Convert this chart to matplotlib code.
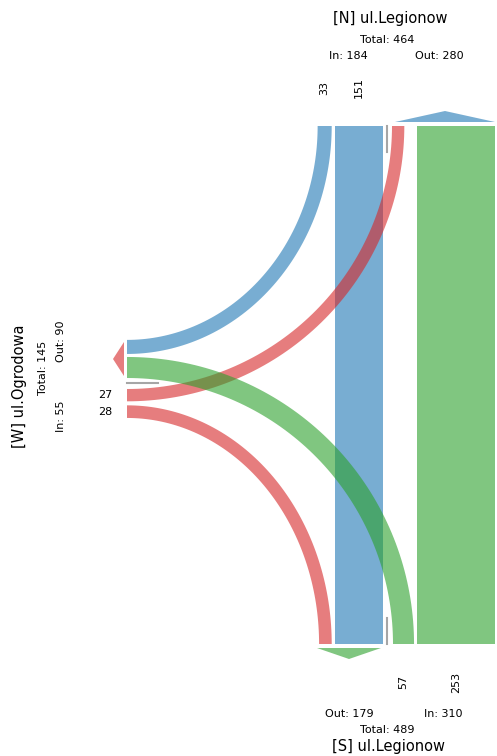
import matplotlib
matplotlib.use('Agg')
import matplotlib.pyplot as plt
from matplotlib.patches import Polygon
import numpy as np

# 数据：路口流量 (起点 -> 终点)
arm_names = {'N': '[N] ul.Legionow', 'S': '[S] ul.Legionow', 'W': '[W] ul.Ogrodowa'}
flow_from = ['N', 'N', 'S', 'S', 'W', 'W']
flow_to = ['S', 'W', 'N', 'W', 'N', 'S']
flow_vol = [151, 33, 253, 57, 27, 28]
arm_colors = {'N': 'tab:blue', 'S': 'tab:green', 'W': 'tab:red'}

vol = {(a, b): v for a, b, v in zip(flow_from, flow_to, flow_vol)}
arm_in = {k: sum(v for a, b, v in zip(flow_from, flow_to, flow_vol) if a == k) for k in arm_names}
arm_out = {k: sum(v for a, b, v in zip(flow_from, flow_to, flow_vol) if b == k) for k in arm_names}

ALPHA = 0.6
FS_TITLE = 10.5
FS_SMALL = 8


def lane_w(v):
    return 4.5 + 0.29 * v


fig = plt.figure(figsize=(4.97, 7.56), dpi=100)
ax = fig.add_axes([0, 0, 1, 1])
ax.set_xlim(0, 497)
ax.set_ylim(756, 0)
ax.axis('off')

y_top, y_bot, x_w = 126, 644, 127
sep_x, sep_y = 387, 383

# 车道位置
lanes = {}
# 北口进口 (右对齐到分隔线)
x = sep_x - 4
for key in [('N', 'S'), ('N', 'W')]:
    w = lane_w(vol[key])
    lanes[('top',) + key] = (x - w, x)
    x = x - w - 3
# 北口出口
w = lane_w(vol[('W', 'N')])
lanes[('top', 'W', 'N')] = (sep_x + 5, sep_x + 5 + w)
# 南口进口 (左对齐)
x = sep_x + 6
for key in [('S', 'W'), ('S', 'N')]:
    w = lane_w(vol[key])
    lanes[('bot',) + key] = (x, x + w)
    x = x + w + 3
# 南口出口
x0, x1 = lanes[('top', 'N', 'S')]
w = lane_w(vol[('W', 'S')])
lanes[('bot', 'W', 'S')] = (x0 - 3 - w, x0 - 3)
# 西口出口 (上方)
y = sep_y - 5
for key in [('S', 'W'), ('N', 'W')]:
    w = lane_w(vol[key])
    lanes[('w',) + key] = (y - w, y)
    y = y - w - 3
# 西口进口 (下方)
y = sep_y + 6
for key in [('W', 'N'), ('W', 'S')]:
    w = lane_w(vol[key])
    lanes[('w',) + key] = (y, y + w)
    y = y + w + 4


def band(cx, cy, inner, outer, sy, color):
    t = np.linspace(0, np.pi / 2, 80)
    xi = cx + inner[0] * np.cos(t)
    yi = cy + sy * inner[1] * np.sin(t)
    xo = cx + outer[0] * np.cos(t[::-1])
    yo = cy + sy * outer[1] * np.sin(t[::-1])
    pts = np.column_stack([np.r_[xi, xo], np.r_[yi, yo]])
    ax.add_patch(Polygon(pts, closed=True, fc=color, ec='none', alpha=ALPHA))


# 直行
for key, lane in [(('N', 'S'), lanes[('top', 'N', 'S')]), (('S', 'N'), lanes[('bot', 'S', 'N')])]:
    ax.fill_between(lane, y_top, y_bot, color=arm_colors[key[0]], alpha=ALPHA, lw=0)

# 北 -> 西
tx, wy = lanes[('top', 'N', 'W')], lanes[('w', 'N', 'W')]
band(x_w, y_top, (tx[0] - x_w, wy[0] - y_top), (tx[1] - x_w, wy[1] - y_top), 1, arm_colors['N'])
# 西 -> 北
tx, wy = lanes[('top', 'W', 'N')], lanes[('w', 'W', 'N')]
band(x_w, y_top, (tx[0] - x_w, wy[0] - y_top), (tx[1] - x_w, wy[1] - y_top), 1, arm_colors['W'])
# 南 -> 西
bx, wy = lanes[('bot', 'S', 'W')], lanes[('w', 'S', 'W')]
band(x_w, y_bot, (bx[0] - x_w, y_bot - wy[1]), (bx[1] - x_w, y_bot - wy[0]), -1, arm_colors['S'])
# 西 -> 南
bx, wy = lanes[('bot', 'W', 'S')], lanes[('w', 'W', 'S')]
band(x_w, y_bot, (bx[0] - x_w, y_bot - wy[1]), (bx[1] - x_w, y_bot - wy[0]), -1, arm_colors['W'])

# 分隔线
ax.plot([sep_x, sep_x], [y_top, y_top + 26], color='grey', lw=1.5, alpha=0.7)
ax.plot([sep_x, sep_x], [y_bot - 26, y_bot], color='grey', lw=1.5, alpha=0.7)
ax.plot([x_w, x_w + 31], [sep_y, sep_y], color='grey', lw=1.5, alpha=0.7)

# 出口箭头
ax.add_patch(Polygon([[395, 122], [495, 122], [445, 111]], fc=arm_colors['N'], alpha=ALPHA, ec='none'))
ax.add_patch(Polygon([[317, 648], [381, 648], [349, 659]], fc=arm_colors['S'], alpha=ALPHA, ec='none'))
ax.add_patch(Polygon([[124, 342], [124, 376], [113, 359]], fc=arm_colors['W'], alpha=ALPHA, ec='none'))

# 进口车道数字
for key in [('N', 'W'), ('N', 'S')]:
    a, b = lanes[('top',) + key]
    ax.text((a + b) / 2, 88, str(vol[key]), rotation=90, ha='center', va='center', fontsize=FS_SMALL)
for key in [('S', 'W'), ('S', 'N')]:
    a, b = lanes[('bot',) + key]
    ax.text((a + b) / 2, 682, str(vol[key]), rotation=90, ha='center', va='center', fontsize=FS_SMALL)
for key in [('W', 'N'), ('W', 'S')]:
    a, b = lanes[('w',) + key]
    ax.text(112, (a + b) / 2, str(vol[key]), ha='right', va='center', fontsize=FS_SMALL)

# 路口标题
ax.text(390, 19, arm_names['N'], ha='center', va='center', fontsize=FS_TITLE)
ax.text(387, 40, f"Total: {arm_in['N'] + arm_out['N']}", ha='center', va='center', fontsize=FS_SMALL)
ax.text(348, 56, f"In: {arm_in['N']}", ha='center', va='center', fontsize=FS_SMALL)
ax.text(439, 56, f"Out: {arm_out['N']}", ha='center', va='center', fontsize=FS_SMALL)

ax.text(349, 714, f"Out: {arm_out['S']}", ha='center', va='center', fontsize=FS_SMALL)
ax.text(443, 714, f"In: {arm_in['S']}", ha='center', va='center', fontsize=FS_SMALL)
ax.text(387, 730, f"Total: {arm_in['S'] + arm_out['S']}", ha='center', va='center', fontsize=FS_SMALL)
ax.text(389, 746, arm_names['S'], ha='center', va='center', fontsize=FS_TITLE)

ax.text(20, 386, arm_names['W'], rotation=90, ha='center', va='center', fontsize=FS_TITLE)
ax.text(43, 368, f"Total: {arm_in['W'] + arm_out['W']}", rotation=90, ha='center', va='center', fontsize=FS_SMALL)
ax.text(61, 416, f"In: {arm_in['W']}", rotation=90, ha='center', va='center', fontsize=FS_SMALL)
ax.text(61, 341, f"Out: {arm_out['W']}", rotation=90, ha='center', va='center', fontsize=FS_SMALL)

plt.savefig('out.png', dpi=100)
